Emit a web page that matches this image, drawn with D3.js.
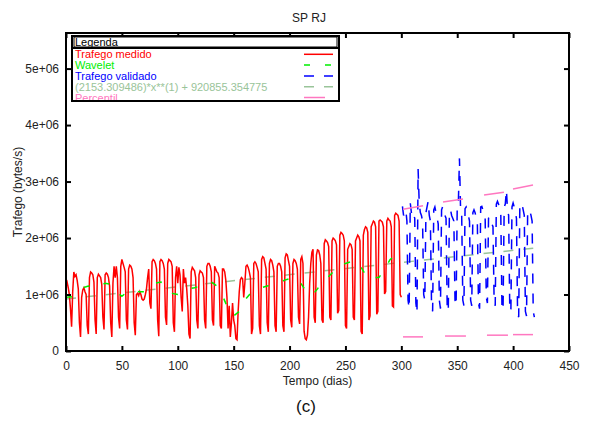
<!DOCTYPE html>
<html lang="en">
<head>
    <meta charset="utf-8">
    <title>SP RJ</title>
    <script src="https://cdn.jsdelivr.net/npm/d3@7"></script>
    <style>
        body { margin: 0; background: #fff; }
        svg text { font-family: "Liberation Sans", Arial, sans-serif; }
    </style>
</head>
<body>
<div class="chart"></div>
<script>
// DATA (traffic in millions of bytes/s) ----------------------
// measured traffic, one value per day from day 0, one row per week
const redValues = [
    1.17,1.22,1.12,1.00,0.75,0.43,1.05,
    1.40,1.32,1.35,1.25,1.10,0.50,0.25,
    0.95,1.08,1.12,1.05,1.00,0.45,0.30,
    1.30,1.40,1.38,1.35,1.22,0.55,0.30,
    1.30,1.36,1.33,1.30,1.18,0.60,0.38,
    1.35,1.38,1.36,1.30,1.15,0.50,0.25,
    1.20,1.50,1.30,1.50,1.30,0.60,0.40,
    1.50,1.62,1.55,1.48,1.40,0.55,0.38,
    1.45,1.52,1.50,1.45,1.30,0.50,0.28,
    1.00,1.02,0.98,1.05,1.00,0.92,0.90,
    0.92,1.00,1.10,1.30,1.45,0.85,0.75,
    1.58,1.62,1.60,1.55,1.45,0.55,0.26,
    1.58,1.62,1.60,1.55,1.45,0.60,0.46,
    1.55,1.62,1.60,1.58,1.50,0.50,0.34,
    1.30,1.50,1.20,1.48,1.35,0.95,0.70,
    1.45,1.20,1.30,1.10,0.80,0.30,0.22,
    1.40,1.48,1.45,1.42,1.30,0.55,0.40,
    1.35,1.42,1.40,1.38,1.30,0.55,0.40,
    1.50,1.55,1.55,1.50,1.40,0.55,0.45,
    1.50,1.45,1.40,1.38,1.30,0.45,0.40,
    1.45,1.45,1.40,1.25,0.95,0.40,0.80,
    0.25,0.50,0.85,0.55,0.45,0.22,0.20,
    0.70,1.05,1.26,1.30,1.28,0.95,1.20,
    1.50,1.52,1.48,1.40,1.30,0.30,0.40,
    1.55,1.58,1.55,1.48,1.40,0.45,0.30,
    1.62,1.67,1.65,1.55,1.45,0.50,0.34,
    1.55,1.62,1.60,1.52,1.40,0.45,0.34,
    1.50,1.55,1.55,1.50,1.40,0.45,0.34,
    1.65,1.72,1.70,1.60,1.50,0.55,0.42,
    1.55,1.62,1.60,1.55,1.45,0.60,0.48,
    1.62,1.67,1.55,0.35,0.22,0.20,0.28,
    0.60,1.20,1.55,1.75,1.80,0.60,0.50,
    1.70,1.79,1.78,1.70,1.55,0.55,0.50,
    1.90,1.97,1.95,1.92,1.85,0.60,0.55,
    1.95,2.00,1.98,1.95,1.88,0.67,0.72,
    2.05,2.10,2.08,2.05,1.95,0.45,0.40,
    1.80,1.85,1.90,1.88,1.80,0.60,0.55,
    1.95,2.00,2.05,2.02,1.95,0.35,0.30,
    2.05,2.15,2.20,2.18,2.10,0.55,0.62,
    2.20,2.25,2.30,2.28,2.20,0.65,0.70,
    2.30,2.32,2.30,2.28,2.20,1.01,1.05,
    2.30,2.35,2.32,2.30,2.20,0.80,0.78,
    2.40,2.44,2.42,2.40,2.30,1.00,0.95
];

// validated traffic, one value per day from day 301
const blueStartDay = 301;
const blueValues = [
    2.56,2.40,2.45,2.50,2.30,0.90,0.75,
    2.62,2.45,2.50,2.40,2.35,0.85,0.67,
    3.22,2.62,2.45,2.40,2.30,1.00,0.90,
    2.45,2.55,2.65,2.40,2.30,0.85,0.70,
    2.50,2.55,2.45,2.35,2.25,0.90,0.75,
    2.50,2.56,2.45,2.40,2.35,0.80,0.70,
    2.45,2.50,2.40,2.35,2.30,0.90,0.80,
    2.55,2.60,3.41,2.50,2.40,0.90,0.80,
    2.52,2.55,2.50,2.40,2.30,0.90,0.80,
    2.45,2.50,2.45,2.35,2.30,0.85,0.75,
    2.55,2.56,2.50,2.40,2.35,0.95,0.85,
    2.35,2.38,2.30,2.25,2.20,0.90,0.80,
    2.60,2.65,2.60,2.50,2.40,0.80,0.72,
    2.55,2.60,2.85,2.50,2.40,0.75,0.70,
    2.55,2.62,2.55,2.45,2.35,0.65,0.60,
    2.55,2.62,2.60,2.50,2.40,0.70,0.62,
    2.45,2.50,2.48,2.40,2.30,0.70,0.60
];

// wavelet trend
const waveletDays = [0,5,10,15,20,25,30,35,40,45,50,55,60,65,70,75,80,85,90,95,100,
    105,110,115,120,125,130,135,140,145,150,155,160,165,170,175,180,185,190,195,200,
    205,210,215,220,225,230,235,240,245,250,255,260,265,270,275,280,285,290,295,300];
const waveletValues = [0.95,0.96,1.05,1.12,1.15,1.12,1.15,1.20,1.18,1.05,0.97,
    1.05,1.08,1.05,1.05,1.12,1.20,1.22,1.15,1.02,1.00,
    1.05,1.10,1.12,1.15,1.18,1.22,1.15,0.98,0.75,0.62,
    0.70,0.90,1.02,1.10,1.12,1.15,1.18,1.20,1.25,1.28,
    1.30,1.20,1.05,0.98,1.10,1.25,1.32,1.42,1.52,1.55,
    1.58,1.60,1.45,1.28,1.30,1.30,1.45,1.62,1.70,1.75];

// linear fit (2153.309486)*x + 920855.354775
const fitDays = [0, 420];
const fitValues = [0.920855, 1.825245];

// percentile segments
const pctUpperStartDay = [301.5, 337.3, 374.0, 399.9];
const pctUpperEndDay = [319.4, 355.2, 391.8, 417.8];
const pctUpperStart = [2.51, 2.64, 2.76, 2.87];
const pctUpperEnd = [2.57, 2.69, 2.81, 2.94];
const pctLowerStartDay = [301.5, 339.1, 376.6, 399.9];
const pctLowerEndDay = [319.4, 357.8, 395.4, 417.8];
const pctLowerStart = [0.25, 0.265, 0.28, 0.29];
const pctLowerEnd = [0.25, 0.265, 0.28, 0.29];

const xTicks = [0, 50, 100, 150, 200, 250, 300, 350, 400, 450];
const yTicks = [0, 1, 2, 3, 4, 5];
const yTickLabels = ["0", "1e+06", "2e+06", "3e+06", "4e+06", "5e+06"];

const legendLabels = ["Trafego medido", "Wavelet", "Trafego validado",
    "(2153.309486)*x**(1) + 920855.354775", "Percentil"];
const legendColors = ["#ff0000", "#00ee00", "#0000ff", "#99c499", "#ff77c0"];
const legendDash = [null, "6,15", "10,10", "10,10", null];

// CHART -------------------------------------------------------
const margin = {top: 33, right: 25, bottom: 75, left: 66};
const W = 594, H = 426;
const w = W - margin.left - margin.right;
const h = H - margin.top - margin.bottom;

const root = d3.select(".chart").append("svg")
    .attr("width", W)
    .attr("height", H);
root.append("rect").attr("width", W).attr("height", H).attr("fill", "#fff");

const svg = root.append("g")
    .attr("transform", `translate(${margin.left},${margin.top})`);

const x = d3.scaleLinear().domain([0, 450]).range([0, w]);
const y = d3.scaleLinear().domain([0, 5.63]).range([h, 0]);

svg.append("clipPath").attr("id", "clip")
    .append("rect").attr("width", w).attr("height", h);

const plot = svg.append("g").attr("clip-path", "url(#clip)");

const line = d3.line().x(d => x(d[0])).y(d => y(d[1]));

// fit line
plot.append("path")
    .datum(fitDays.map((d, i) => [d, fitValues[i]]))
    .attr("d", line)
    .attr("fill", "none")
    .attr("stroke", legendColors[3])
    .attr("stroke-width", 1.5)
    .attr("stroke-dasharray", legendDash[3]);

// measured
plot.append("path")
    .datum(redValues.map((v, i) => [i, v]))
    .attr("d", line)
    .attr("fill", "none")
    .attr("stroke", legendColors[0])
    .attr("stroke-width", 1.5);

// wavelet
plot.append("path")
    .datum(waveletDays.map((d, i) => [d, waveletValues[i]]))
    .attr("d", line)
    .attr("fill", "none")
    .attr("stroke", legendColors[1])
    .attr("stroke-width", 1.5)
    .attr("stroke-dasharray", legendDash[1]);

// validated
plot.append("path")
    .datum(blueValues.map((v, i) => [blueStartDay + i, v]))
    .attr("d", line)
    .attr("fill", "none")
    .attr("stroke", legendColors[2])
    .attr("stroke-width", 1.5)
    .attr("stroke-dasharray", legendDash[2]);

// percentile
pctUpperStartDay.forEach((d, i) => {
    plot.append("path")
        .datum([[d, pctUpperStart[i]], [pctUpperEndDay[i], pctUpperEnd[i]]])
        .attr("d", line)
        .attr("fill", "none")
        .attr("stroke", legendColors[4])
        .attr("stroke-width", 1.5);
    plot.append("path")
        .datum([[pctLowerStartDay[i], pctLowerStart[i]], [pctLowerEndDay[i], pctLowerEnd[i]]])
        .attr("d", line)
        .attr("fill", "none")
        .attr("stroke", legendColors[4])
        .attr("stroke-width", 1.5);
});

// axes, ticks inward and mirrored
const xAxis = d3.axisBottom(x).tickValues(xTicks).tickSize(-5).tickPadding(10).tickFormat(d => d);
const yAxis = d3.axisLeft(y).tickValues(yTicks).tickSize(-5).tickPadding(7)
    .tickFormat((d, i) => yTickLabels[i]);

const gx = svg.append("g").attr("transform", `translate(0,${h})`).call(xAxis);
const gy = svg.append("g").call(yAxis);
const gxt = svg.append("g").call(d3.axisTop(x).tickValues(xTicks).tickSize(-5).tickFormat(""));
const gyr = svg.append("g").attr("transform", `translate(${w},0)`)
    .call(d3.axisRight(y).tickValues(yTicks).tickSize(-5).tickFormat(""));

[gx, gy, gxt, gyr].forEach(g => {
    g.select(".domain").remove();
    g.selectAll(".tick line").attr("stroke", "#000").attr("stroke-width", 2);
    g.selectAll(".tick text").attr("font-size", 12).attr("fill", "#222");
});

// frame
svg.append("rect")
    .attr("width", w).attr("height", h)
    .attr("fill", "none").attr("stroke", "#000").attr("stroke-width", 2);

// titles
root.append("text").attr("x", 309).attr("y", 22).attr("text-anchor", "middle")
    .attr("font-size", 12).attr("fill", "#222").text("SP RJ");
root.append("text").attr("x", margin.left + w / 2).attr("y", 385).attr("text-anchor", "middle")
    .attr("font-size", 12).attr("fill", "#222").text("Tempo (dias)");
root.append("text").attr("transform", `translate(22,${margin.top + h / 2}) rotate(-90)`)
    .attr("text-anchor", "middle").attr("font-size", 12).attr("fill", "#222")
    .text("Trafego (bytes/s)");
root.append("text").attr("x", 306).attr("y", 412).attr("text-anchor", "middle")
    .attr("font-size", 17).attr("fill", "#111").text("(c)");

// legend
const lg = root.append("g").attr("transform", "translate(72,36)");
lg.append("rect").attr("x", 0).attr("y", 0).attr("width", 267).attr("height", 65)
    .attr("fill", "#fff").attr("stroke", "#000").attr("stroke-width", 2);
lg.append("rect").attr("x", 2).attr("y", 1).attr("width", 263).attr("height", 10)
    .attr("fill", "none").attr("stroke", "#000").attr("stroke-width", 1);
lg.append("text").attr("x", 3).attr("y", 10).attr("font-size", 11).attr("fill", "#000")
    .text("Legenda");

const entries = lg.selectAll(".entry").data(legendLabels).enter()
    .append("g").attr("class", "entry")
    .attr("transform", (d, i) => `translate(0,${18.3 + i * 10.8})`);
entries.append("text").attr("x", 3).attr("y", 4).attr("font-size", 11)
    .attr("fill", (d, i) => legendColors[i]).text(d => d);
entries.append("line").attr("x1", 232)
    .attr("x2", (d, i) => i === 4 ? 253 : 261)
    .attr("stroke", (d, i) => legendColors[i]).attr("stroke-width", 1.5)
    .attr("stroke-dasharray", (d, i) => legendDash[i]);

lg.append("line").attr("x1", 0).attr("x2", 267).attr("y1", 12).attr("y2", 12)
    .attr("stroke", "#000").attr("stroke-width", 2);
lg.append("rect").attr("x", 0).attr("y", 0).attr("width", 267).attr("height", 65)
    .attr("fill", "none").attr("stroke", "#000").attr("stroke-width", 2);
</script>
</body>
</html>
